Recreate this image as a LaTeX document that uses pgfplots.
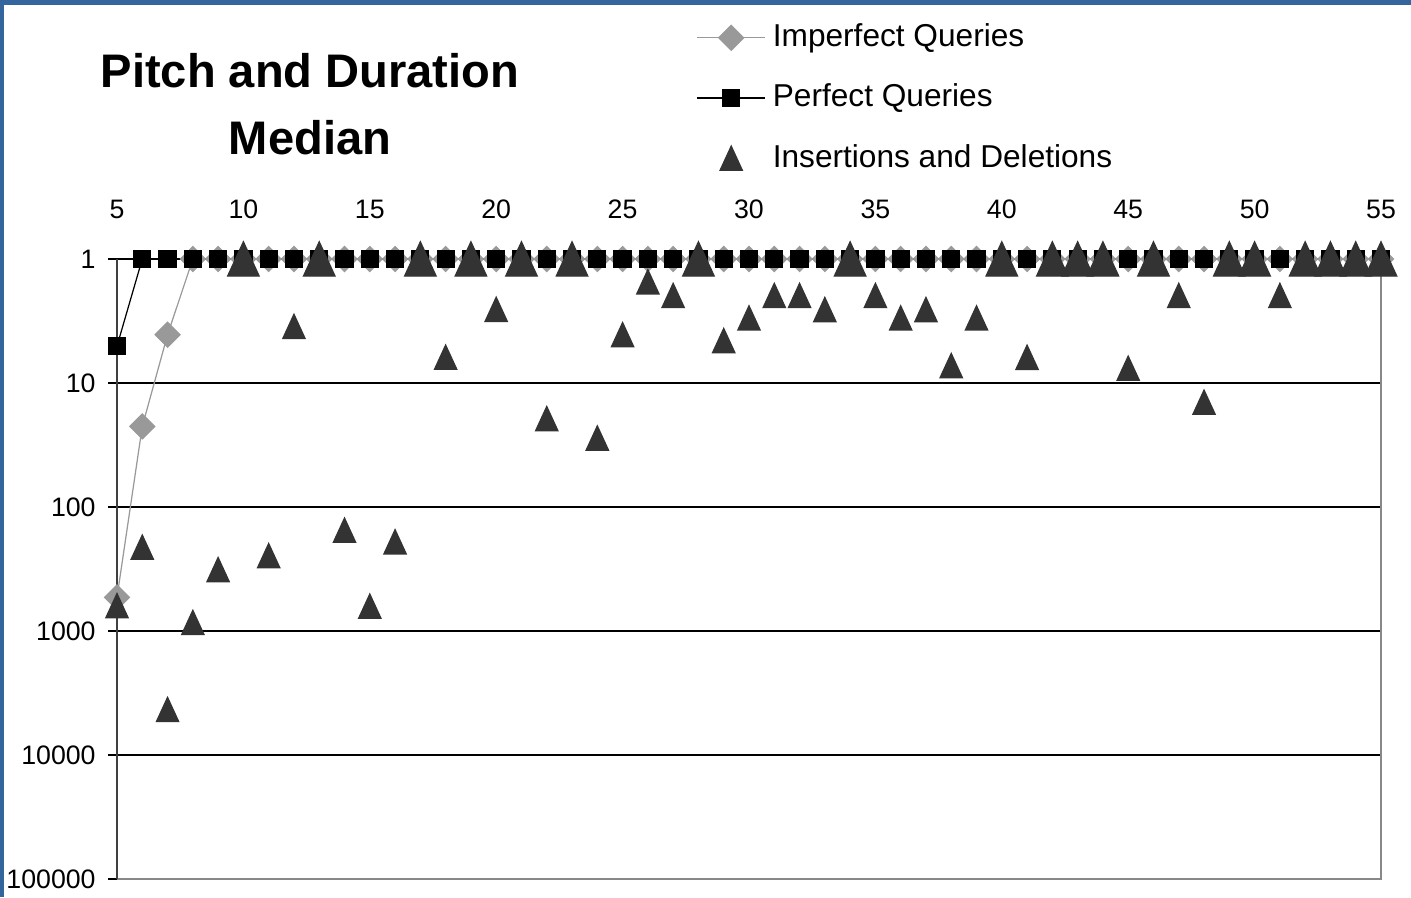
\documentclass[border=0pt]{standalone}
\usepackage{pgfplots}
\pgfplotsset{compat=1.18}
\usepackage{fontspec}
\setmainfont{Liberation Sans}
\definecolor{tri}{HTML}{333333}
\definecolor{dia}{HTML}{999999}
\definecolor{bordblue}{RGB}{52,101,156}
\definecolor{frameg}{HTML}{888888}
\pgfdeclareplotmark{xtri}{%
  \pgfpathmoveto{\pgfqpoint{0pt}{\pgfplotmarksize}}%
  \pgfpathlineto{\pgfqpoint{-0.92\pgfplotmarksize}{-\pgfplotmarksize}}%
  \pgfpathlineto{\pgfqpoint{0.92\pgfplotmarksize}{-\pgfplotmarksize}}%
  \pgfpathclose\pgfusepathqfillstroke}
\begin{document}
\begin{tikzpicture}
\useasboundingbox (0,0) rectangle (14.11,8.97);
\fill[bordblue] (0,8.92) rectangle (14.11,8.97);
\fill[bordblue] (0,0) rectangle (0.04,8.97);
\node[font=\fontsize{13.4}{19}\selectfont\bfseries, anchor=base] at (3.10,8.09) {Pitch and Duration};
\node[font=\fontsize{13.4}{19}\selectfont\bfseries, anchor=base] at (3.10,7.42) {Median};
\begin{axis}[
  at={(1.17cm,0.18cm)}, anchor=south west, scale only axis,
  width=12.64cm, height=6.2cm,
  xmin=5, xmax=55, ymode=log, ymin=1, ymax=100000, y dir=reverse,
  clip=false,
  /pgf/number format/assume math mode=true,
  axis line style={draw=none},
  xtick={5,10,...,55}, xticklabel pos=upper, x tick style={draw=none},
  xticklabel style={font=\fontsize{7.6}{9}\selectfont, yshift=0.19cm},
  ytick={1,10,100,1000,10000,100000},
  yticklabels={1,10,100,1000,10000,100000},
  yticklabel style={font=\fontsize{7.6}{9}\selectfont},
  ytick pos=left, tick align=outside, major tick length=0.09cm,
  yminorticks=false, y tick style={black, line width=0.5pt},
  ymajorgrids, grid style={black, line width=0.4pt},
  legend style={at={(axis description cs:0.458,1.392)}, anchor=north west,
    draw=none, fill=none, inner sep=0pt, row sep=1.8mm,
    font=\fontsize{9}{11}\selectfont},
  legend cell align=left,
  legend image code/.code={\draw[mark repeat=2,mark phase=2,#1] plot coordinates {(0cm,0cm) (0.34cm,0cm) (0.68cm,0cm)};},
]
\draw[black, line width=0.4pt] (axis cs:5,1) -- (axis cs:55,1);
\draw[frameg, line width=0.7pt] (axis cs:5,100000) -- (axis cs:55,100000) -- (axis cs:55,1);
\draw[black!75, line width=0.7pt] (axis cs:5,1) -- (axis cs:5,100000);

\addplot[dia, line width=0.35pt, mark=square*, mark size=2.5pt, mark options={rotate=45, fill=dia, draw=dia}]
coordinates {(5,535) (6,22.4) (7,4.08) (8,1) (9,1) (10,1) (11,1) (12,1) (13,1) (14,1) (15,1) (16,1) (17,1) (18,1) (19,1) (20,1) (21,1) (22,1) (23,1) (24,1) (25,1) (26,1) (27,1) (28,1) (29,1) (30,1) (31,1) (32,1) (33,1) (34,1) (35,1) (36,1) (37,1) (38,1) (39,1) (40,1) (41,1) (42,1) (43,1) (44,1) (45,1) (46,1) (47,1) (48,1) (49,1) (50,1) (51,1) (52,1) (53,1) (54,1) (55,1)};
\addlegendentry{Imperfect Queries}

\addplot[black, line width=0.35pt, mark=square*, mark size=2.42pt, mark options={fill=black, draw=black}]
coordinates {(5,5.04) (6,1) (7,1) (8,1) (9,1) (10,1) (11,1) (12,1) (13,1) (14,1) (15,1) (16,1) (17,1) (18,1) (19,1) (20,1) (21,1) (22,1) (23,1) (24,1) (25,1) (26,1) (27,1) (28,1) (29,1) (30,1) (31,1) (32,1) (33,1) (34,1) (35,1) (36,1) (37,1) (38,1) (39,1) (40,1) (41,1) (42,1) (43,1) (44,1) (45,1) (46,1) (47,1) (48,1) (49,1) (50,1) (51,1) (52,1) (53,1) (54,1) (55,1)};
\addlegendentry{Perfect Queries}

\addplot[only marks, mark=xtri, mark size=3.41pt, mark options={fill=tri, draw=tri}]
coordinates {(5,625) (6,211) (7,4300) (8,854) (9,320) (11,247) (12,3.5) (14,154) (15,631) (16,191) (18,6.2) (20,2.55) (22,19.4) (24,27.8) (25,4.08) (26,1.53) (27,1.97) (29,4.55) (30,2.99) (31,1.97) (32,1.97) (33,2.56) (35,1.97) (36,2.99) (37,2.56) (38,7.24) (39,2.99) (41,6.21) (45,7.61) (47,1.97) (48,14.3) (51,1.97)};
\addlegendentry{Insertions and Deletions}

\addplot[only marks, forget plot, mark=xtri, mark size=4.84pt, mark options={fill=tri, draw=tri}]
coordinates {(10,1) (13,1) (17,1) (19,1) (21,1) (23,1) (28,1) (34,1) (40,1) (42,1) (43,1) (44,1) (46,1) (49,1) (50,1) (52,1) (53,1) (54,1) (55,1)};
\end{axis}
\end{tikzpicture}
\end{document}
